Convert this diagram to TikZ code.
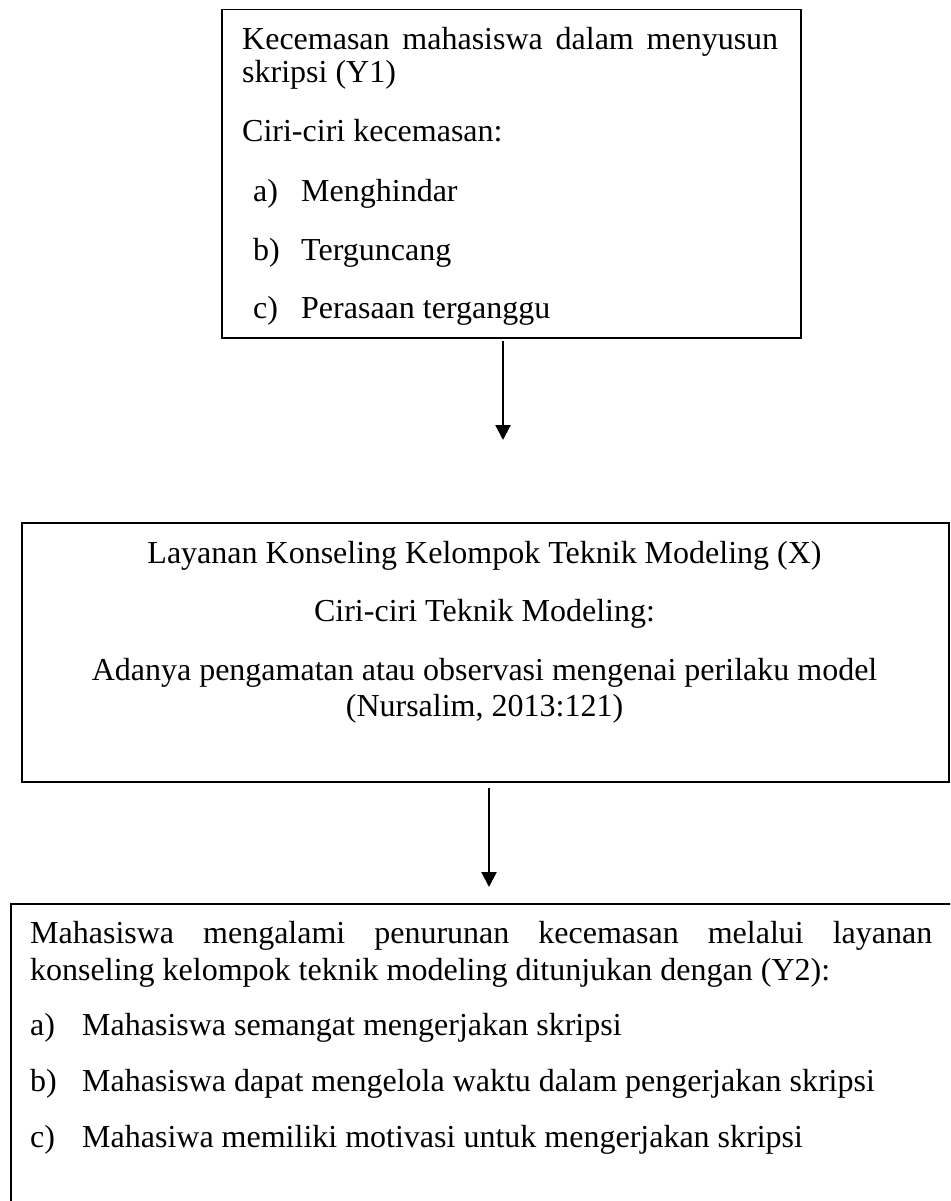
\documentclass[tikz,border=0pt]{standalone}
\usepackage{fontspec}
\setmainfont{Liberation Serif}
\usetikzlibrary{arrows.meta}
\tikzset{
  boxframe/.style={draw=black, line width=1.5pt, rectangle, inner sep=0pt, anchor=north west},
  txt/.style={inner sep=0pt, anchor=base west, font=\fontsize{32}{37}\selectfont},
  ctxt/.style={inner sep=0pt, anchor=base, font=\fontsize{32}{37}\selectfont},
  arr/.style={line width=2.2pt, -{Triangle[length=15pt,width=15pt]}}
}
\begin{document}
\begin{tikzpicture}[x=1pt,y=-1pt]
\useasboundingbox (0,0) rectangle (950,1201);
\clip (0,0) rectangle (950,1201);
\fill[white] (0,0) rectangle (950,1201);
% boxes
\node[boxframe, minimum width=579pt, minimum height=328pt] (b1) at (221,9) {};
\node[boxframe, minimum width=927pt, minimum height=259pt] (b2) at (21,522) {};
\node[boxframe, minimum width=960pt, minimum height=400pt] (b3) at (10,903) {};
% box 1 text
\node[txt] (t1a) at (242,50) {\makebox[536pt][s]{Kecemasan mahasiswa dalam menyusun}};
\node[txt] (t1b) at (242,83) {skripsi (Y1)};
\node[txt] (t1c) at (242,142) {Ciri-ciri kecemasan:};
\node[txt] (t1d) at (253,201) {\makebox[48pt][l]{a)}Menghindar};
\node[txt] (t1e) at (253,260) {\makebox[48pt][l]{b)}Terguncang};
\node[txt] (t1f) at (253,318) {\makebox[48pt][l]{c)}Perasaan terganggu};
% box 2 text
\node[ctxt] (t2a) at (484.5,563) {Layanan Konseling Kelompok Teknik Modeling (X)};
\node[ctxt] (t2b) at (484.5,621) {Ciri-ciri Teknik Modeling:};
\node[ctxt] (t2c) at (484.5,680) {Adanya pengamatan atau observasi mengenai perilaku model};
\node[ctxt] (t2d) at (484.5,716) {(Nursalim, 2013:121)};
% box 3 text
\node[txt] (t3a) at (30,943) {\makebox[902pt][s]{Mahasiswa mengalami penurunan kecemasan melalui layanan}};
\node[txt] (t3b) at (30,980) {konseling kelompok teknik modeling ditunjukan dengan (Y2):};
\node[txt] (t3c) at (30,1035) {\makebox[52pt][l]{a)}Mahasiswa semangat mengerjakan skripsi};
\node[txt] (t3d) at (30,1091) {\makebox[52pt][l]{b)}Mahasiswa dapat mengelola waktu dalam pengerjakan skripsi};
\node[txt] (t3e) at (30,1147) {\makebox[52pt][l]{c)}Mahasiwa memiliki motivasi untuk mengerjakan skripsi};
% arrows
\coordinate (tip1) at (503,440);
\coordinate (tip2) at (489,887);
\draw[arr] ([yshift=-2pt]tip1 |- b1.south) -- (tip1);
\draw[arr] ([yshift=-5pt]tip2 |- b2.south) -- (tip2);
\end{tikzpicture}
\end{document}
